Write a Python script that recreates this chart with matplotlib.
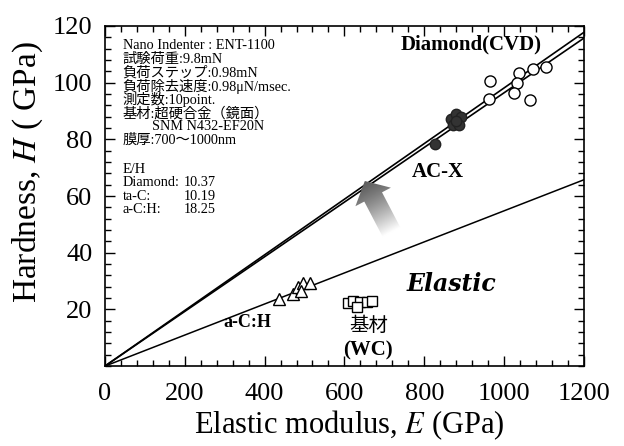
import matplotlib
matplotlib.use("Agg")
import matplotlib.pyplot as plt
from matplotlib.patches import Polygon
from matplotlib.ticker import MultipleLocator
import numpy as np

plt.rcParams['font.family'] = ['Liberation Serif', 'Noto Sans CJK JP']
plt.rcParams['mathtext.fontset'] = 'stix'

# data
diamond_E = [965, 1038, 1073, 1105, 1033, 1025, 962, 1065]
diamond_H = [100.7, 103.5, 104.7, 105.6, 99.8, 96.3, 94.1, 93.9]
acx_E = [827, 868, 880, 892, 873, 887, 880]
acx_H = [78.4, 87.0, 89.0, 88.0, 85.0, 85.0, 86.5]
ach_E = [436, 471, 484, 496, 514, 491]
ach_H = [23.6, 25.4, 27.9, 29.3, 29.3, 26.5]
wc_E = [609, 622, 639, 657, 669, 632]
wc_H = [22.2, 22.9, 22.6, 22.6, 22.9, 20.8]

ratio_names = ['Diamond:', 'ta-C:', 'a-C:H:']
ratio_values = [10.37, 10.19, 18.25]

info_lines = ['Nano Indenter : ENT-1100',
              '試験荷重:9.8mN',
              '負荷ステップ:0.98mN',
              '負荷除去速度:0.98μN/msec.',
              '測定数:10point.',
              '基材:超硬合金（鏡面）',
              '        SNM N432-EF20N',
              '膜厚:700〜1000nm']

fig = plt.figure(figsize=(6.24, 4.46), dpi=100)
ax = fig.add_axes([0.168, 0.179, 0.768, 0.763])
ax.set_xlim(0, 1200)
ax.set_ylim(0, 120)

# E/H lines
E_line = np.array([0, 1200])
ax.plot(E_line, E_line / ratio_values[0], color='black', lw=1.2, zorder=2)
ax.plot(E_line, E_line / ratio_values[1], color='black', lw=1.2, zorder=2)
ax.plot(E_line, E_line / ratio_values[2], color='black', lw=1.1, zorder=2)

ax.plot(diamond_E, diamond_H, 'o', ms=8, mfc='white', mec='black', mew=1.0, zorder=4)
ax.plot(acx_E, acx_H, 'o', ms=7.5, mfc='#333333', mec='#222222', mew=1.0, zorder=4)
ax.plot(ach_E, ach_H, '^', ms=8, mfc='white', mec='black', mew=1.0, zorder=4)
ax.plot(wc_E, wc_H, 's', ms=7.5, mfc='white', mec='black', mew=1.0, zorder=4)

# shaded arrow (built in pixel space, then mapped to data)
sE = 479 / 1200.0
sH = 340 / 120.0
tipE, tipH = 651, 65.3
u = np.array([-0.463, 0.886])
n = np.array([0.886, 0.463])
tip = np.array([0.0, 0.0])
base = tip - 18 * u
tail = tip - 58 * u
pts = [tip, base + 20 * n, base + 10 * n, tail + 10 * n, tail - 10 * n,
       base - 10 * n, base - 20 * n]
poly_xy = [(tipE + p[0] / sE, tipH + p[1] / sH) for p in pts]
poly = Polygon(poly_xy, closed=True, facecolor='none', edgecolor='none',
               transform=ax.transData)
ax.add_patch(poly)
gE = np.linspace(tipE - 60, tipE + 90, 200)
gH = np.linspace(tipH - 28, tipH + 3, 200)
GE, GH = np.meshgrid(gE, gH)
dx = (GE - tipE) * sE
dy = (GH - tipH) * sH
s = -(dx * u[0] + dy * u[1])
shade = np.clip(0.36 + 0.64 * (s / 58.0) ** 1.3, 0, 1)
im = ax.imshow(shade, extent=[gE[0], gE[-1], gH[0], gH[-1]], origin='lower',
               cmap='gray', vmin=0, vmax=1, aspect='auto',
               interpolation='bilinear', zorder=3)
im.set_clip_path(poly)
ax.set_xlim(0, 1200)
ax.set_ylim(0, 120)

# labels in the plot
ax.text(918, 113.5, 'Diamond(CVD)', fontsize=15, fontweight='bold', ha='center', va='center')
ax.text(833, 68.5, 'AC-X', fontsize=15, fontweight='bold', ha='center', va='center')
ax.text(868, 29, 'Elastic', fontsize=17, fontweight='bold', style='italic',
        ha='center', va='center', family=['DejaVu Serif'])
ax.text(358, 15.5, 'a-C:H', fontsize=13, fontweight='bold', ha='center', va='center')
ax.text(660, 14.2, '基材', fontsize=14, ha='center', va='center',
        family=['Noto Sans CJK JP'])
ax.text(660, 5.5, '(WC)', fontsize=15, fontweight='bold', ha='center', va='center')

y0 = 113
step = 4.75
for i, line in enumerate(info_lines):
    ax.text(45, y0 - step * i, line, fontsize=10.3, ha='left', va='center')
y1 = 69.5
ax.text(45, y1, 'E/H', fontsize=10.3, ha='left', va='center')
for i, (nm, v) in enumerate(zip(ratio_names, ratio_values)):
    ax.text(45, y1 - step * (i + 1), nm, fontsize=10.3, ha='left', va='center')
    ax.text(198, y1 - step * (i + 1), f'{v:.2f}', fontsize=10.3, ha='left', va='center')

# axes styling
ax.set_xticks([0, 200, 400, 600, 800, 1000, 1200])
ax.set_yticks([20, 40, 60, 80, 100, 120])
ax.xaxis.set_minor_locator(MultipleLocator(40))
ax.yaxis.set_minor_locator(MultipleLocator(4))
ax.tick_params(which='both', direction='in', top=True, right=True, width=1.0)
ax.tick_params(which='major', length=7, labelsize=19)
ax.tick_params(axis='x', which='major', pad=12)
ax.tick_params(axis='y', which='major', pad=9)
ax.tick_params(which='minor', length=4)
for sp in ax.spines.values():
    sp.set_linewidth(1.2)

ax.set_xlabel('Elastic modulus, $\\mathit{E}$ (GPa)', fontsize=22)
ax.xaxis.set_label_coords(0.51, -0.125)
ax.set_ylabel('Hardness, $\\mathit{H}$ ( GPa)', fontsize=24)
ax.yaxis.set_label_coords(-0.125, 0.57)

fig.savefig('out.png', dpi=100)
